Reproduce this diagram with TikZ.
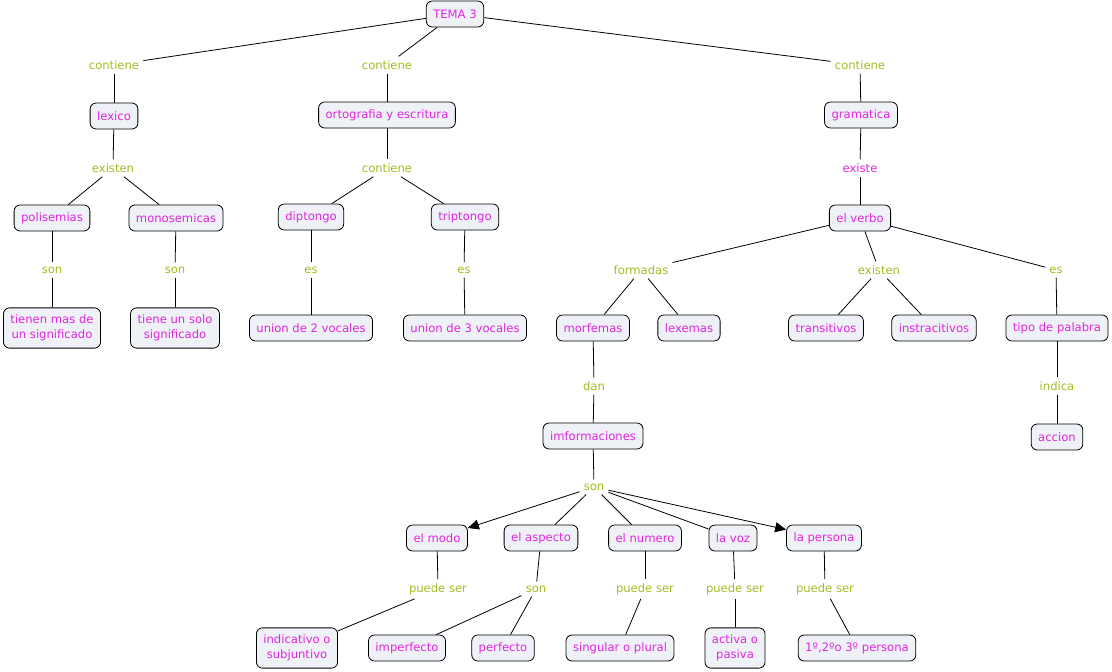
\documentclass[tikz,border=0pt]{standalone}
\usepackage{fontspec}
\setmainfont{DejaVu Sans}
\usetikzlibrary{arrows.meta}
\definecolor{colconcept}{RGB}{226,36,226}
\definecolor{collink}{RGB}{158,190,32}
\definecolor{colfill}{RGB}{238,242,246}
\tikzset{
	>={Triangle[length=11pt,width=10pt]},
	concept/.style={draw, line width=0.8pt, rounded corners=6pt, fill=colfill, text=colconcept,
		inner xsep=7pt, inner ysep=7pt, minimum height=26pt, align=center,
		font=\fontsize{11.6}{15}\selectfont},
	linkword/.style={text=collink, inner sep=4pt, font=\fontsize{11.6}{15}\selectfont},
	link/.style={line width=0.8pt}
}

\begin{document}
\begin{tikzpicture}[x=1pt, y=-1pt]
	\useasboundingbox (0,0) rectangle (1112,672);
	% level 0 and 1
	\node[concept] (tema) at (455,14) {TEMA 3};
	\node[linkword] (cont1) at (114,65) {contiene};
	\node[linkword] (cont2) at (387,65) {contiene};
	\node[linkword] (cont3) at (860,65) {contiene};
	\node[concept] (lexico) at (114,116) {lexico};
	\node[concept] (orto) at (387,115) {ortografia y escritura};
	\node[concept] (gram) at (861,115) {gramatica};
	% level 2
	\node[linkword] (exist1) at (113,168) {existen};
	\node[linkword] (cont4) at (387,168) {contiene};
	\node[linkword, text=colconcept] (existe) at (860,168) {existe};
	\node[concept] (polis) at (52,218) {polisemias};
	\node[concept] (monos) at (176,218) {monosemicas};
	\node[concept] (dipt) at (311,217) {diptongo};
	\node[concept] (tript) at (465,217) {triptongo};
	\node[concept] (verbo) at (860,218) {el verbo};
	% level 3
	\node[linkword] (son1) at (52,270) {son};
	\node[linkword] (son2) at (175,270) {son};
	\node[linkword] (es1) at (311,270) {es};
	\node[linkword] (es2) at (464,270) {es};
	\node[linkword] (formadas) at (641,270) {formadas};
	\node[linkword] (exist2) at (879,270) {existen};
	\node[linkword] (es3) at (1056,270) {es};
	\node[concept] (tienen) at (52,328) {tienen mas de\\un significado};
	\node[concept] (tiene) at (175,328) {tiene un solo\\significado};
	\node[concept] (union2) at (311,328) {union de 2 vocales};
	\node[concept] (union3) at (465,328) {union de 3 vocales};
	\node[concept] (morf) at (593,328) {morfemas};
	\node[concept] (lexem) at (689,328) {lexemas};
	\node[concept] (trans) at (826,328) {transitivos};
	\node[concept] (instr) at (934,328) {instracitivos};
	\node[concept] (tipo) at (1057,328) {tipo de palabra};
	% level 4
	\node[linkword] (dan) at (594,386) {dan};
	\node[linkword] (indica) at (1057,386) {indica};
	\node[concept] (imform) at (593,436) {imformaciones};
	\node[concept] (accion) at (1057,437) {accion};
	\node[linkword] (son3) at (594,487) {son};
	\node[concept] (modo) at (437,538) {el modo};
	\node[concept] (aspecto) at (541,538) {el aspecto};
	\node[concept] (numero) at (645,538) {el numero};
	\node[concept] (voz) at (733,538) {la voz};
	\node[concept] (persona) at (824,538) {la persona};
	% level 5
	\node[linkword] (ps1) at (438,589) {puede ser};
	\node[linkword] (son4) at (536,589) {son};
	\node[linkword] (ps2) at (645,589) {puede ser};
	\node[linkword] (ps3) at (735,589) {puede ser};
	\node[linkword] (ps4) at (825,589) {puede ser};
	\node[concept] (indic) at (297,648) {indicativo o\\subjuntivo};
	\node[concept] (imperf) at (407,648) {imperfecto};
	\node[concept] (perf) at (503,648) {perfecto};
	\node[concept] (singu) at (620,648) {singular o plural};
	\node[concept] (activa) at (735,648) {activa o\\pasiva};
	\node[concept] (ordin) at (857,648) {1º,2ºo 3º persona};
	% connectors
	\foreach \a/\b in {tema/cont1, cont1/lexico, tema/cont2, cont2/orto, tema/cont3, cont3/gram,
		lexico/exist1, exist1/polis, exist1/monos, orto/cont4, cont4/dipt, cont4/tript,
		gram/existe, existe/verbo, polis/son1, son1/tienen, monos/son2, son2/tiene,
		dipt/es1, es1/union2, tript/es2, es2/union3,
		verbo/formadas, formadas/morf, formadas/lexem, verbo/exist2, exist2/trans, exist2/instr,
		verbo/es3, es3/tipo, morf/dan, dan/imform, tipo/indica, indica/accion,
		imform/son3, son3/aspecto, son3/numero, son3/voz,
		modo/ps1, ps1/indic, aspecto/son4, son4/imperf, son4/perf,
		numero/ps2, ps2/singu, voz/ps3, ps3/activa, persona/ps4, ps4/ordin} {
		\draw[link] (\a) -- (\b);
	}
	\draw[link, ->] (son3) -- (modo);
	\draw[link, ->] (son3) -- (persona);
\end{tikzpicture}
\end{document}
